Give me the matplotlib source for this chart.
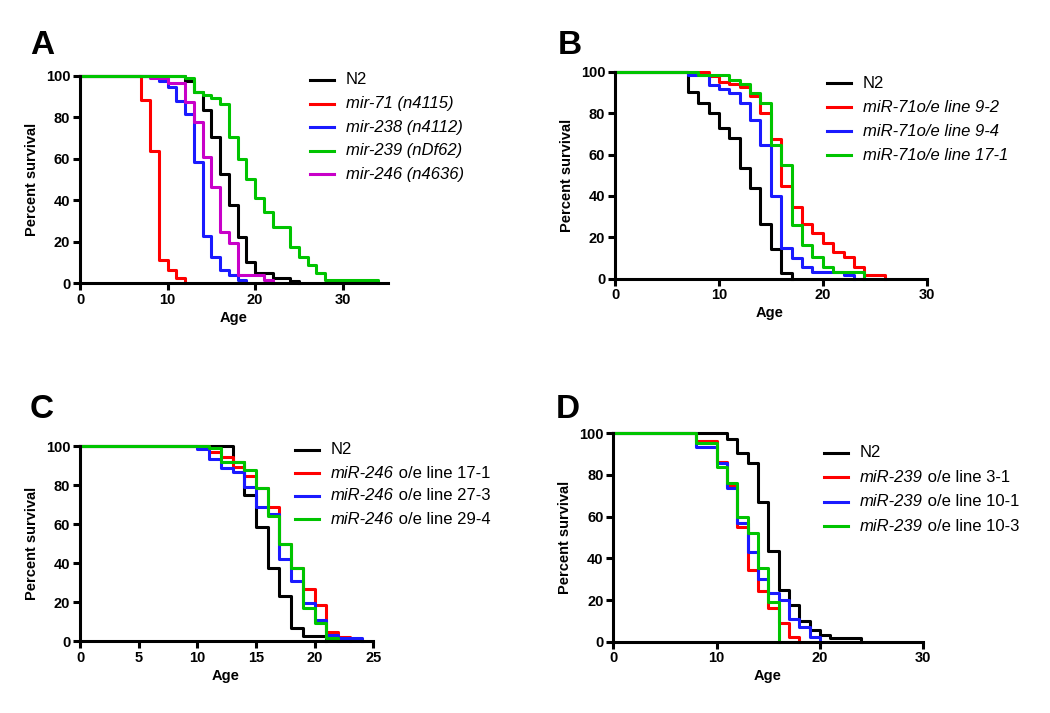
import matplotlib
matplotlib.use("Agg")
import matplotlib.pyplot as plt
from matplotlib.lines import Line2D

plt.rcParams['font.family'] = ['Liberation Sans', 'DejaVu Sans']

W, H = 1050, 713

# Panel A: miRNA loss-of-function mutants
a_n2_age = [0, 12, 13, 14, 15, 16, 17, 18, 19, 20, 22, 24, 25]
a_n2_surv = [100, 97.6, 92.3, 83.5, 70.3, 52.5, 37.5, 22.2, 10.1, 5.0, 2.6, 1.0, 0]
a_mir71_age = [0, 7, 8, 9, 10, 11, 12]
a_mir71_surv = [100, 88.5, 63.6, 11.0, 6.4, 2.6, 0]
a_mir238_age = [0, 9, 10, 11, 12, 13, 14, 15, 16, 17, 18, 19]
a_mir238_surv = [100, 97.3, 94.5, 87.7, 81.5, 58.6, 22.6, 12.5, 6.1, 3.7, 1.3, 0]
a_mir239_age = [0, 12, 13, 14, 15, 16, 17, 18, 19, 20, 21, 22, 24, 25, 26, 27, 28, 34]
a_mir239_surv = [100, 98.8, 92.3, 90.7, 89.1, 86.5, 70.3, 59.8, 50.1, 40.8, 34.4, 26.8, 17.4, 12.6, 8.6, 4.8, 1.3, 0]
a_mir246_age = [0, 8, 10, 12, 13, 14, 15, 16, 17, 18, 21, 22]
a_mir246_surv = [100, 98.8, 96.4, 87.5, 77.8, 60.7, 46.3, 24.6, 19.3, 3.7, 1.3, 0]

# Panel B: miR-71 overexpression
b_n2_age = [0, 7, 8, 9, 10, 11, 12, 13, 14, 15, 16, 17]
b_n2_surv = [100, 90.3, 85.0, 80.2, 73.0, 67.8, 53.3, 44.0, 26.2, 14.2, 2.9, 0]
b_l92_age = [0, 9, 10, 11, 12, 13, 14, 15, 16, 17, 18, 19, 20, 21, 22, 23, 24, 26]
b_l92_surv = [100, 97.7, 95.2, 94.0, 92.8, 88.2, 79.9, 67.3, 44.8, 34.8, 26.4, 22.2, 17.4, 13.0, 10.6, 5.5, 1.8, 0]
b_l94_age = [0, 7, 9, 10, 11, 12, 13, 14, 15, 16, 17, 18, 19, 22, 23]
b_l94_surv = [100, 98.4, 93.6, 91.5, 89.9, 84.7, 76.7, 64.6, 39.9, 15.0, 9.8, 5.8, 3.4, 1.8, 0]
b_l171_age = [0, 8, 11, 12, 13, 14, 15, 16, 17, 18, 19, 20, 21, 24]
b_l171_surv = [100, 98.4, 96.0, 94.0, 89.5, 84.7, 64.6, 54.9, 25.9, 16.3, 10.6, 5.5, 3.4, 0]

# Panel C: miR-246 overexpression
c_n2_age = [0, 13, 14, 15, 16, 17, 18, 19, 21]
c_n2_surv = [100, 92.0, 74.9, 58.4, 37.4, 23.2, 6.6, 2.6, 0]
c_l171_age = [0, 11, 12, 13, 14, 15, 16, 17, 18, 19, 20, 21, 22, 23]
c_l171_surv = [100, 97.1, 94.5, 89.5, 84.6, 78.3, 68.9, 49.8, 37.3, 26.9, 18.8, 4.9, 2.4, 0]
c_l273_age = [0, 10, 11, 12, 13, 14, 15, 16, 17, 18, 19, 20, 21, 22, 24]
c_l273_surv = [100, 98.3, 93.2, 88.6, 86.5, 78.8, 68.9, 65.2, 42.2, 30.8, 19.8, 11.1, 3.2, 1.5, 0]
c_l294_age = [0, 11, 12, 14, 15, 16, 17, 18, 19, 20, 21, 22]
c_l294_surv = [100, 98.8, 92.0, 87.7, 78.3, 64.2, 49.8, 37.3, 16.9, 9.5, 1.5, 0]

# Panel D: miR-239 overexpression
d_n2_age = [0, 11, 12, 13, 14, 15, 16, 17, 18, 19, 20, 21, 24]
d_n2_surv = [100, 97.3, 90.7, 85.9, 67.2, 43.7, 24.8, 17.7, 10.1, 5.6, 3.2, 1.6, 0]
d_l31_age = [0, 8, 10, 11, 12, 13, 14, 15, 16, 17, 18]
d_l31_surv = [100, 96.5, 86.4, 74.7, 55.2, 34.6, 24.5, 16.0, 9.1, 2.1, 0]
d_l101_age = [0, 8, 10, 11, 12, 13, 14, 15, 16, 17, 18, 19, 20]
d_l101_surv = [100, 93.6, 85.9, 73.6, 56.8, 43.2, 30.0, 23.2, 20.0, 10.7, 7.2, 2.1, 0]
d_l103_age = [0, 8, 10, 11, 12, 13, 14, 15, 16]
d_l103_surv = [100, 95.2, 84.0, 76.0, 60.0, 52.0, 35.2, 19.2, 0]

BLACK, RED, BLUE, GREEN, MAGENTA = "#000000", "#ff0000", "#1a1aff", "#00c400", "#c800c8"

fig = plt.figure(figsize=(W / 100, H / 100), dpi=100)


def px_axes(left, right, top, bottom):
    return fig.add_axes([left / W, 1 - bottom / H, (right - left) / W, (bottom - top) / H])


def style_axes(ax, xmax, xticks):
    ax.set_xlim(0, xmax)
    ax.set_ylim(0, 100)
    ax.set_xticks(xticks)
    ax.set_yticks([0, 20, 40, 60, 80, 100])
    for s in ["top", "right"]:
        ax.spines[s].set_visible(False)
    for s in ["left", "bottom"]:
        ax.spines[s].set_linewidth(2.2)
    ax.tick_params(direction="out", length=5, width=2.2, labelsize=10.5, pad=2)
    for lab in ax.get_xticklabels() + ax.get_yticklabels():
        lab.set_fontweight("bold")


def curve(ax, age, surv, color):
    ax.plot(age, surv, drawstyle="steps-post", color=color, lw=2.2, clip_on=False)


def legend(x0, y0, dy, entries):
    # entries: (color, italic part, plain part)
    for i, (color, ital, plain) in enumerate(entries):
        y = 1 - (y0 + i * dy) / H
        fig.add_artist(Line2D([x0 / W, (x0 + 24) / W], [y, y], color=color, lw=2.2))
        tx = (x0 + 36) / W
        if ital:
            t = fig.text(tx, y, ital, style="italic", fontsize=12, va="center")
            if plain:
                # plain text glued to the right end of the italic part
                fig.axes[0].annotate(plain, xy=(1, 0.5), xycoords=t, va="center", fontsize=12)
        else:
            fig.text(tx, y, plain, fontsize=12, va="center")


def labels(letter, lx, ly, ylx, yly, agex, agey):
    fig.text(lx / W, 1 - ly / H, letter, fontsize=24, fontweight="bold", ha="center", va="center")
    fig.text(ylx / W, 1 - yly / H, "Percent survival", rotation=90, fontsize=10.5,
             fontweight="bold", ha="center", va="center")
    fig.text(agex / W, 1 - agey / H, "Age", fontsize=10.5, fontweight="bold", ha="center", va="center")


# A
axA = px_axes(80, 388.3, 75.8, 283)
curve(axA, a_n2_age, a_n2_surv, BLACK)
curve(axA, a_mir71_age, a_mir71_surv, RED)
curve(axA, a_mir238_age, a_mir238_surv, BLUE)
curve(axA, a_mir246_age, a_mir246_surv, MAGENTA)
curve(axA, a_mir239_age, a_mir239_surv, GREEN)
style_axes(axA, 35.2, [0, 10, 20, 30])
labels("A", 42, 45, 32, 179, 234, 318)
legend(310, 80, 23.6, [(BLACK, "", "N2"),
                       (RED, "mir-71 (n4115)", ""),
                       (BLUE, "mir-238 (n4112)", ""),
                       (GREEN, "mir-239 (nDf62)", ""),
                       (MAGENTA, "mir-246 (n4636)", "")])

# B
axB = px_axes(615, 926.7, 71.7, 278.7)
curve(axB, b_n2_age, b_n2_surv, BLACK)
curve(axB, b_l92_age, b_l92_surv, RED)
curve(axB, b_l94_age, b_l94_surv, BLUE)
curve(axB, b_l171_age, b_l171_surv, GREEN)
style_axes(axB, 30, [0, 10, 20, 30])
labels("B", 570, 45, 567, 175, 770, 313)
legend(827, 83.3, 24, [(BLACK, "", "N2"),
                       (RED, "miR-71o/e line 9-2", ""),
                       (BLUE, "miR-71o/e line 9-4", ""),
                       (GREEN, "miR-71o/e line 17-1", "")])

# C
axC = px_axes(80, 373.3, 446, 641.3)
curve(axC, c_n2_age, c_n2_surv, BLACK)
curve(axC, c_l171_age, c_l171_surv, RED)
curve(axC, c_l273_age, c_l273_surv, BLUE)
curve(axC, c_l294_age, c_l294_surv, GREEN)
style_axes(axC, 25, [0, 5, 10, 15, 20, 25])
labels("C", 42, 410, 32, 543, 226, 676)
legend(295, 450, 23, [(BLACK, "", "N2"),
                      (RED, "miR-246", " o/e line 17-1"),
                      (BLUE, "miR-246", " o/e line 27-3"),
                      (GREEN, "miR-246", " o/e line 29-4")])

# D
axD = px_axes(613.3, 923.3, 433.3, 641.7)
curve(axD, d_n2_age, d_n2_surv, BLACK)
curve(axD, d_l31_age, d_l31_surv, RED)
curve(axD, d_l101_age, d_l101_surv, BLUE)
curve(axD, d_l103_age, d_l103_surv, GREEN)
style_axes(axD, 30, [0, 10, 20, 30])
labels("D", 568, 410, 565, 537, 768, 676)
legend(824, 452.7, 24.5, [(BLACK, "", "N2"),
                          (RED, "miR-239", " o/e line 3-1"),
                          (BLUE, "miR-239", " o/e line 10-1"),
                          (GREEN, "miR-239", " o/e line 10-3")])

fig.savefig("out.png", dpi=100)
